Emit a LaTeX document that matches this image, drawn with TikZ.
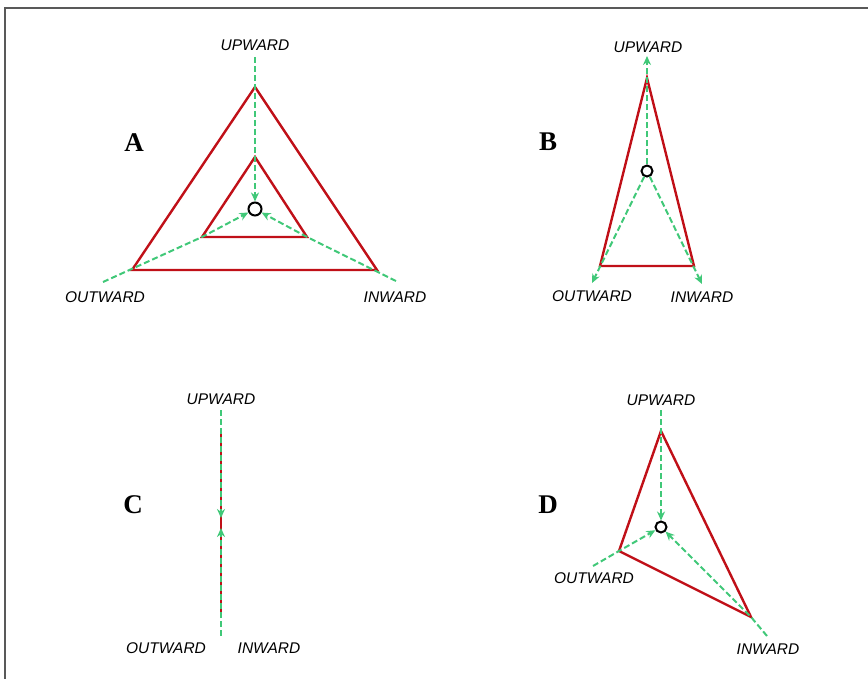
\documentclass[tikz,border=0pt]{standalone}
\usepackage{fontspec}
\setmainfont{Liberation Serif}
\setsansfont{Liberation Sans}
\usetikzlibrary{arrows.meta}

\definecolor{sideRed}{RGB}{192,16,24}
\definecolor{pullGreen}{RGB}{64,200,120}

\tikzset{
  side/.style={draw=sideRed, line width=2.4pt, line join=miter},
  pull/.style={draw=pullGreen, line width=2pt, dash pattern=on 6pt off 3pt},
  pullend/.style={pull, -{Stealth[length=9pt,width=8pt]}},
  word/.style={font=\sffamily\itshape\fontsize{15.5}{17}\selectfont, inner sep=0pt},
  panel/.style={font=\bfseries\fontsize{27}{30}\selectfont, inner sep=0pt},
  hub/.style={circle, draw=black, line width=2pt, fill=white, inner sep=0pt, minimum size=11pt},
}

\begin{document}
\begin{tikzpicture}[x=1pt, y=-1pt]
  \useasboundingbox (0,0) rectangle (868,679);
  \draw[line width=2pt, draw=black!65] (5,679) -- (5,8) -- (868,8);

  % A
  \node[panel] (labA) at (134,143) {A};
  \node[word] (upA) at (255,45) {UPWARD};
  \node[word] (outA) at (105,297) {OUTWARD};
  \node[word] (inA) at (395,297) {INWARD};
  \coordinate (topA) at (255,87);
  \coordinate (leftA) at (132,270);
  \coordinate (rightA) at (377,270);
  \coordinate (itopA) at (255,157);
  \coordinate (ileftA) at (202,237);
  \coordinate (irightA) at (307,237);
  \coordinate (uendA) at (255,57);
  \coordinate (oendA) at (103,282);
  \coordinate (iendA) at (396,281);
  \draw[side] (topA) -- (leftA) -- (rightA) -- cycle;
  \draw[side] (itopA) -- (ileftA) -- (irightA) -- cycle;
  \node[hub, minimum size=13pt] (hubA) at (255,209) {};
  \draw[pullend] (uendA) -- (hubA);
  \draw[pullend] (oendA) -- (ileftA) -- (hubA);
  \draw[pullend] (iendA) -- (irightA) -- (hubA);

  % B
  \node[panel] (labB) at (548,142) {B};
  \node[word] (upB) at (648,47) {UPWARD};
  \node[word] (outB) at (592,296) {OUTWARD};
  \node[word] (inB) at (702,297) {INWARD};
  \coordinate (topB) at (647,78);
  \coordinate (leftB) at (600,266);
  \coordinate (rightB) at (694,266);
  \coordinate (uendB) at (647,56);
  \coordinate (oendB) at (592,283);
  \coordinate (iendB) at (702,284);
  \draw[side] (topB) -- (leftB) -- (rightB) -- cycle;
  \node[hub] (hubB) at (647,171) {};
  \draw[pullend] (hubB) -- (uendB);
  \draw[pullend] (hubB) -- (oendB);
  \draw[pullend] (hubB) -- (iendB);

  % C
  \node[panel] (labC) at (133,505) {C};
  \node[word] (upC) at (221,399) {UPWARD};
  \node[word] (outC) at (166,648) {OUTWARD};
  \node[word] (inC) at (269,648) {INWARD};
  \coordinate (topC) at (221,430);
  \coordinate (botC) at (221,617);
  \coordinate (uendC) at (221,410);
  \coordinate (dendC) at (221,636);
  \coordinate (meetC) at (221,518);
  \coordinate (meet2C) at (221,528);
  \draw[side] (topC) -- (botC);
  \draw[pullend] (uendC) -- (meetC);
  \draw[pullend] (dendC) -- (meet2C);

  % D
  \node[panel] (labD) at (548,505) {D};
  \node[word] (upD) at (661,400) {UPWARD};
  \node[word] (outD) at (594,578) {OUTWARD};
  \node[word] (inD) at (768,649) {INWARD};
  \coordinate (topD) at (661,431);
  \coordinate (leftD) at (619,551);
  \coordinate (rightD) at (751,617);
  \coordinate (uendD) at (661,410);
  \coordinate (oendD) at (593,566);
  \coordinate (iendD) at (767,636);
  \draw[side] (topD) -- (leftD) -- (rightD) -- cycle;
  \node[hub] (hubD) at (661,527) {};
  \draw[pullend] (uendD) -- (hubD);
  \draw[pullend] (oendD) -- (leftD) -- (hubD);
  \draw[pullend] (iendD) -- (rightD) -- (hubD);
\end{tikzpicture}
\end{document}
